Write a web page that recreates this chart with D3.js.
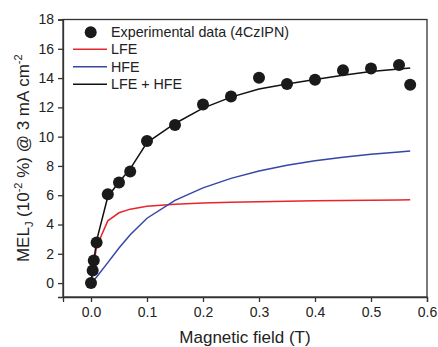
<!DOCTYPE html>
<html><head><meta charset="utf-8">
<script src="https://cdn.jsdelivr.net/npm/d3@7"></script>
<style>body{margin:0;background:#fff}svg{display:block;font-family:"Liberation Sans",Arial,sans-serif}</style>
</head><body>
<script>
const expX = [0, 0.003, 0.005, 0.01, 0.03, 0.05, 0.07, 0.1, 0.15, 0.2, 0.25, 0.3, 0.35, 0.4, 0.45, 0.5, 0.55, 0.57];
const expY = [0, 0.86, 1.54, 2.77, 6.07, 6.87, 7.62, 9.71, 10.8, 12.2, 12.74, 14.03, 13.6, 13.88, 14.54, 14.65, 14.9, 13.54];
const fitX = [0, 0.005, 0.01, 0.03, 0.05, 0.07, 0.1, 0.15, 0.2, 0.25, 0.3, 0.35, 0.4, 0.45, 0.5, 0.55, 0.57];
const lfeY = [0, 1.3, 2.5, 4.25, 4.8, 5.05, 5.25, 5.38, 5.47, 5.52, 5.56, 5.59, 5.62, 5.64, 5.66, 5.68, 5.69];
const hfeY = [0, 0.2, 0.42, 1.4, 2.4, 3.3, 4.43, 5.65, 6.5, 7.15, 7.65, 8.05, 8.35, 8.6, 8.8, 8.95, 9.02];
const sumY = [0, 1.5, 2.9, 5.9, 6.9, 7.8, 9.6, 10.9, 11.95, 12.7, 13.25, 13.6, 13.9, 14.2, 14.45, 14.62, 14.68];
const xTicks = [0, 0.1, 0.2, 0.3, 0.4, 0.5, 0.6];
const yTicks = [0, 2, 4, 6, 8, 10, 12, 14, 16, 18];
const legendLabels = ["Experimental data (4CzIPN)", "LFE", "HFE", "LFE + HFE"];

const W = 438, H = 347;
const L = 63, R = 427, T = 19.5, B = 297;
const svg = d3.select("body").append("svg").attr("width", W).attr("height", H);
const x = d3.scaleLinear().domain([-0.05, 0.6]).range([L, R]);
const y = d3.scaleLinear().domain([-0.95, 18]).range([B, T]);
const axisColor = "#333";

svg.append("rect").attr("x", L).attr("y", T).attr("width", R - L).attr("height", B - T)
  .attr("fill", "none").attr("stroke", axisColor).attr("stroke-width", 1.3);

const xa = svg.append("g").attr("transform", `translate(0,${B})`)
  .call(d3.axisBottom(x).tickValues(xTicks).tickFormat(d3.format(".1f")).tickSize(5).tickPadding(5));
const ya = svg.append("g").attr("transform", `translate(${L},0)`)
  .call(d3.axisLeft(y).tickValues(yTicks).tickSize(5).tickPadding(4));
[xa, ya].forEach(g => {
  g.select(".domain").attr("stroke", axisColor).attr("stroke-width", 1.3);
  g.selectAll(".tick line").attr("stroke", axisColor).attr("stroke-width", 1.3);
  g.selectAll(".tick text").attr("font-size", 14).attr("fill", "#222")
    .attr("font-family", '"Liberation Sans",Arial,sans-serif');
});

const line = d3.line().x(d => x(d[0])).y(d => y(d[1])).curve(d3.curveLinear);
const mk = ys => fitX.map((v, i) => [v, ys[i]]);
svg.append("path").attr("d", line(mk(lfeY))).attr("fill", "none").attr("stroke", "#e8262a").attr("stroke-width", 1.5);
svg.append("path").attr("d", line(mk(hfeY))).attr("fill", "none").attr("stroke", "#3646a6").attr("stroke-width", 1.5);
svg.append("path").attr("d", line(mk(sumY))).attr("fill", "none").attr("stroke", "#111").attr("stroke-width", 1.5);

svg.append("g").selectAll("circle").data(expX.map((v, i) => [v, expY[i]])).join("circle")
  .attr("cx", d => x(d[0])).attr("cy", d => y(d[1])).attr("r", 6).attr("fill", "#1a1a1a");

const lg = svg.append("g");
const ly = [32.3, 49.3, 66.7, 84.3];
const lc = ["#111", "#e8262a", "#3646a6", "#111"];
lg.append("circle").attr("cx", 90.7).attr("cy", ly[0]).attr("r", 6).attr("fill", "#1a1a1a");
for (let i = 1; i < 4; i++) {
  lg.append("line").attr("x1", 73).attr("x2", 107).attr("y1", ly[i]).attr("y2", ly[i])
    .attr("stroke", lc[i]).attr("stroke-width", 1.5);
}
legendLabels.forEach((t, i) => {
  lg.append("text").attr("x", 111).attr("y", ly[i] + 5).attr("font-size", 14.3).attr("fill", "#222").text(t);
});

svg.append("text").attr("x", (L + R) / 2).attr("y", 343).attr("text-anchor", "middle")
  .attr("font-size", 17).attr("fill", "#222").text("Magnetic field (T)");

const yl = svg.append("text").attr("transform", `translate(29,${(T + B) / 2}) rotate(-90)`)
  .attr("text-anchor", "middle").attr("font-size", 17).attr("fill", "#222");
yl.append("tspan").text("MEL");
yl.append("tspan").attr("font-size", 11).attr("dy", 4).text("J");
yl.append("tspan").attr("dy", -4).text(" (10");
yl.append("tspan").attr("font-size", 11).attr("dy", -7).text("-2");
yl.append("tspan").attr("dy", 7).text(" %) @ 3 mA cm");
yl.append("tspan").attr("font-size", 11).attr("dy", -7).text("-2");
</script>
</body></html>
